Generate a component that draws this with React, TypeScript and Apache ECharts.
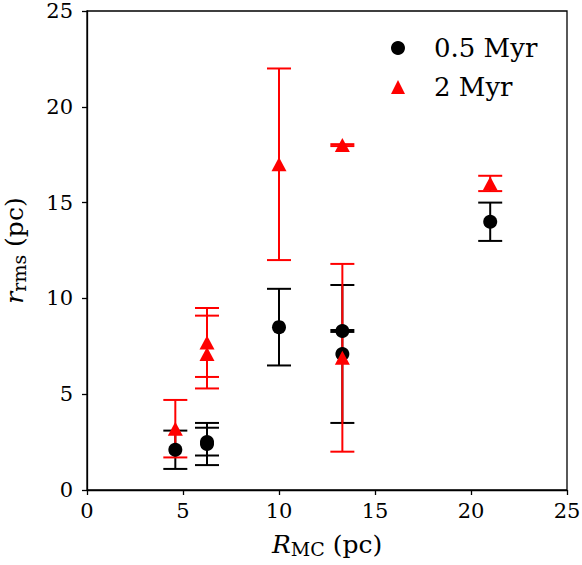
import React, { useEffect, useRef } from "react";
import * as echarts from "echarts";

// 0.5 Myr snapshot: cloud radius, rms radius and its error range (pc)
const radiusMC05 = [4.6, 6.25, 6.25, 10, 13.3, 13.3, 21];
const rms05 = [2.1, 2.5, 2.4, 8.5, 8.3, 7.1, 14];
const lower05 = [1.1, 1.8, 1.3, 6.5, 8.25, 3.5, 13];
const upper05 = [3.1, 3.25, 3.5, 10.5, 8.35, 10.7, 15];

// 2 Myr snapshot
const radiusMC2 = [4.6, 6.25, 6.25, 10, 13.3, 13.3, 21];
const rms2 = [3.2, 7.7, 7.1, 17, 18, 6.9, 16];
const lower2 = [1.7, 5.9, 5.3, 12, 17.95, 2.0, 15.6];
const upper2 = [4.7, 9.5, 9.1, 22, 18.05, 11.8, 16.4];

const seriesNames = ["0.5 Myr", "2 Myr"];
const axisTicks = [0, 5, 10, 15, 20, 25];

const FONT = "DejaVu Serif";
const BLACK = "#000000";
const RED = "#ff0000";

function errorBars(name: string, xs: number[], lo: number[], hi: number[], color: string, z: number) {
  return {
    name,
    type: "custom",
    z,
    silent: true,
    data: xs.map((x, i) => [x, lo[i], hi[i]]),
    encode: { x: 0, y: [1, 2] },
    renderItem: (_params: any, api: any) => {
      const x = api.value(0);
      const top = api.coord([x, api.value(2)]);
      const bottom = api.coord([x, api.value(1)]);
      const cap = 12;
      const style = { stroke: color, lineWidth: 2 };
      return {
        type: "group",
        children: [
          { type: "line", shape: { x1: top[0], y1: top[1], x2: bottom[0], y2: bottom[1] }, style },
          { type: "line", shape: { x1: top[0] - cap, y1: top[1], x2: top[0] + cap, y2: top[1] }, style },
          { type: "line", shape: { x1: bottom[0] - cap, y1: bottom[1], x2: bottom[0] + cap, y2: bottom[1] }, style },
        ],
      };
    },
  };
}

export default function App() {
  const ref = useRef<HTMLDivElement>(null);

  useEffect(() => {
    if (!ref.current) return;
    const chart = echarts.init(ref.current, undefined, { renderer: "svg" });

    const axisCommon = {
      type: "value",
      min: axisTicks[0],
      max: axisTicks[axisTicks.length - 1],
      interval: 5,
      nameLocation: "middle",
      axisLine: { show: true, lineStyle: { color: BLACK, width: 1.3 } },
      axisTick: { show: true, inside: false, length: 5, lineStyle: { color: BLACK, width: 1.3 } },
      splitLine: { show: false },
      axisLabel: { color: BLACK, fontFamily: FONT, fontSize: 21 },
    };

    // italic symbol, subscript and unit for the axis titles
    const nameRich = {
      it: { fontFamily: FONT, fontSize: 25, fontStyle: "italic", color: BLACK, lineHeight: 28 },
      sub: { fontFamily: FONT, fontSize: 19, color: BLACK, lineHeight: 15, verticalAlign: "bottom" },
      txt: { fontFamily: FONT, fontSize: 25, color: BLACK, lineHeight: 28 },
    };

    chart.setOption({
      animation: false,
      backgroundColor: "#ffffff",
      grid: {
        left: 87,
        right: 15,
        top: 11,
        bottom: 75,
        outerBoundsMode: "none",
        containLabel: false,
        show: true,
        borderColor: BLACK,
        borderWidth: 1.3,
        backgroundColor: "transparent",
      },
      legend: {
        data: [
          { name: seriesNames[0], icon: "circle" },
          { name: seriesNames[1], icon: "triangle" },
        ],
        orient: "vertical",
        left: 386,
        top: 28,
        itemWidth: 14,
        itemHeight: 14,
        itemGap: 9,
        selectedMode: false,
        textStyle: {
          fontFamily: FONT,
          fontSize: 26,
          color: BLACK,
          lineHeight: 30,
          padding: [0, 0, 0, 24],
        },
      },
      xAxis: {
        ...axisCommon,
        name: "{it|R}{sub|MC}{txt| (pc)}",
        nameGap: 40,
        nameTextStyle: { rich: nameRich },
        axisLabel: { ...axisCommon.axisLabel, margin: 10 },
      },
      yAxis: {
        ...axisCommon,
        name: "{it|r}{sub|rms}{txt| (pc)}",
        nameGap: 59,
        nameTextStyle: { rich: nameRich },
        axisLabel: { ...axisCommon.axisLabel, margin: 14, lineHeight: 16 },
      },
      series: [
        errorBars("bars05", radiusMC05, lower05, upper05, BLACK, 1),
        errorBars("bars2", radiusMC2, lower2, upper2, RED, 2),
        {
          name: seriesNames[0],
          type: "scatter",
          z: 3,
          symbol: "circle",
          symbolSize: 14,
          itemStyle: { color: BLACK, opacity: 1 },
          data: radiusMC05.map((x, i) => [x, rms05[i]]),
        },
        {
          name: seriesNames[1],
          type: "scatter",
          z: 4,
          symbol: "triangle",
          symbolSize: [15, 14],
          itemStyle: { color: RED, opacity: 1 },
          data: radiusMC2.map((x, i) => [x, rms2[i]]),
        },
      ],
    });

    return () => chart.dispose();
  }, []);

  return (
    <div
      ref={ref}
      style={{ position: "fixed", left: 0, top: 0, width: 582, height: 565, background: "#fff" }}
    />
  );
}
